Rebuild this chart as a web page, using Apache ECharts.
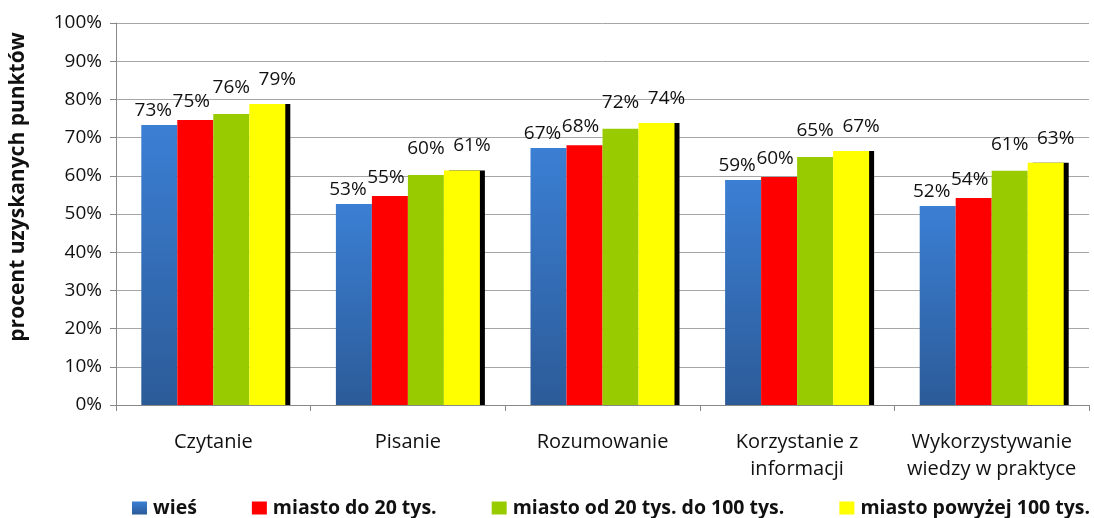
<!DOCTYPE html>
<html>
<head>
<meta charset="utf-8">
<script src="https://cdn.jsdelivr.net/npm/echarts@6/dist/echarts.min.js"></script>
<style>
  html, body { margin: 0; padding: 0; background: #fff; }
  #chart { width: 1094px; height: 518px; }
</style>
</head>
<body>
<div id="chart"></div>
<script>
const categories = ['Czytanie', 'Pisanie', 'Rozumowanie', 'Korzystanie z\ninformacji', 'Wykorzystywanie\nwiedzy w praktyce']
const wies = [73.3, 52.6, 67.3, 58.9, 52.1]
const miastoDo20 = [74.6, 54.7, 68.0, 59.7, 54.2]
const miasto20do100 = [76.2, 60.2, 72.3, 64.9, 61.3]
const miastoPow100 = [78.8, 61.4, 73.8, 66.5, 63.4]
const yTicks = [0, 10, 20, 30, 40, 50, 60, 70, 80, 90, 100]

const font = 'Open Sans'
const chart = echarts.init(document.getElementById('chart'))

function barLabel(offset) {
  return {
    show: true,
    position: 'top',
    distance: 5,
    offset: offset,
    fontFamily: font,
    fontSize: 19,
    color: '#111',
    formatter: (p) => Math.round(p.value) + '%'
  }
}

const option = {
  animation: false,
  grid: { left: 113, right: 5, top: 23, bottom: 113 },
  legend: {
    left: 127,
    bottom: -5,
    width: 1000,
    itemGap: 55,
    itemWidth: 15,
    itemHeight: 13,
    icon: 'rect',
    textStyle: { fontFamily: font, fontSize: 19.5, fontWeight: 'bold', color: '#111', padding: [0, 0, 0, 1] },
    data: ['wieś', 'miasto do 20 tys.', 'miasto od 20 tys. do 100 tys.', 'miasto powyżej 100 tys.']
  },
  xAxis: {
    type: 'category',
    data: categories,
    axisLine: { lineStyle: { color: '#888' } },
    axisTick: { show: true, length: 6, lineStyle: { color: '#888' } },
    axisLabel: { fontFamily: font, fontSize: 20, color: '#111', margin: 24, lineHeight: 27, interval: 0 }
  },
  yAxis: {
    type: 'value',
    min: 0,
    max: 100,
    interval: 10,
    name: 'procent uzyskanych punktów',
    nameLocation: 'middle',
    nameGap: 87,
    nameRotate: 90,
    nameTextStyle: { fontFamily: font, fontSize: 21, fontWeight: 'bold', color: '#111', padding: [0, 0, 0, 54] },
    axisLine: { show: true, lineStyle: { color: '#888' } },
    axisTick: { show: true, length: 6, lineStyle: { color: '#888' } },
    axisLabel: {
      fontFamily: font, fontSize: 19, color: '#111', margin: 14,
      formatter: (v) => (yTicks.includes(v) ? v + '%' : '')
    },
    splitLine: { lineStyle: { color: '#a6a6a6', width: 1 } }
  },
  series: [
    {
      name: 'wieś',
      type: 'bar',
      data: wies,
      barGap: '0%',
      barCategoryGap: '26%',
      itemStyle: {
        color: new echarts.graphic.LinearGradient(0, 0, 0, 1, [
          { offset: 0, color: '#3b7fd4' },
          { offset: 1, color: '#2c5b98' }
        ])
      },
      label: barLabel([-6, 0])
    },
    {
      name: 'miasto do 20 tys.',
      type: 'bar',
      data: miastoDo20,
      itemStyle: { color: '#ff0000' },
      label: barLabel([-4, -4])
    },
    {
      name: 'miasto od 20 tys. do 100 tys.',
      type: 'bar',
      data: miasto20do100,
      itemStyle: { color: '#99cc00' },
      label: barLabel([0, -12])
    },
    {
      name: 'miasto powyżej 100 tys.',
      type: 'bar',
      data: miastoPow100,
      itemStyle: {
        color: '#ffff00',
        shadowColor: '#000',
        shadowBlur: 0,
        shadowOffsetX: 5,
        shadowOffsetY: 0
      },
      label: barLabel([10, -10])
    }
  ]
}

chart.setOption(option)
</script>
</body>
</html>
